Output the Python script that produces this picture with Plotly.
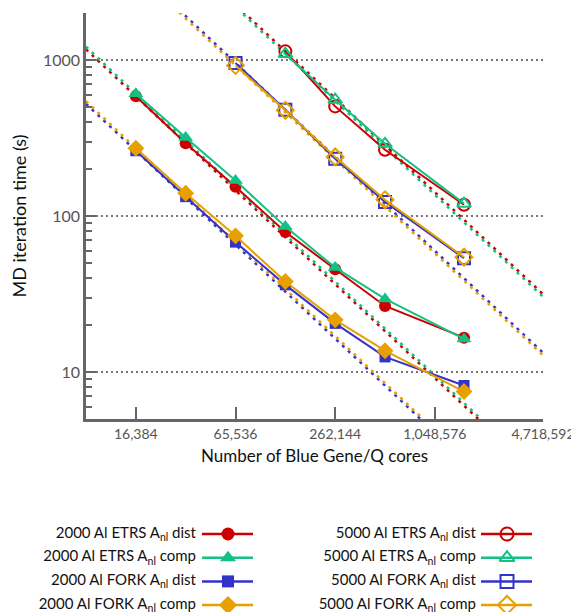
import math
import plotly.graph_objects as go

# ---------------- data ----------------
cores_2000 = [16384, 32768, 65536, 131072, 262144, 524288, 1572864]
etrs_dist_2000 = [585, 293, 154, 79, 45.6, 26.5, 16.6]
etrs_comp_2000 = [608, 318, 169, 85.5, 46.7, 29.4, 16.3]
fork_dist_2000 = [262, 133, 68, 36.2, 20.5, 12.5, 8.2]
fork_comp_2000 = [272, 140, 74.6, 38, 21.6, 13.7, 7.5]

cores_5000_etrs = [131072, 262144, 524288, 1572864]
etrs_dist_5000 = [1136, 504, 266, 118]
etrs_comp_5000 = [1093, 556, 290, 120]
cores_5000_fork = [65536, 131072, 262144, 524288, 1572864]
fork_dist_5000 = [957, 480, 233, 123, 53.6]
fork_comp_5000 = [923, 476, 239, 127, 54.5]

x_tickvals = [16384, 65536, 262144, 1048576, 4718592]
x_ticktext = ["16,384", "65,536", "262,144", "1,048,576", "4,718,592"]
y_tickvals = [10, 100, 1000]
y_ticktext = ["10", "100", "1000"]
x_range_vals = [8192, 4718592]
y_range_vals = [5, 2000]

labels = [
    "2000 Al ETRS A<sub>nl</sub> dist",
    "2000 Al ETRS A<sub>nl</sub> comp",
    "2000 Al FORK A<sub>nl</sub> dist",
    "2000 Al FORK A<sub>nl</sub> comp",
    "5000 Al ETRS A<sub>nl</sub> dist",
    "5000 Al ETRS A<sub>nl</sub> comp",
    "5000 Al FORK A<sub>nl</sub> dist",
    "5000 Al FORK A<sub>nl</sub> comp",
]

# ---------------- styles ----------------
RED = "#cc0000"
GREEN = "#14c184"
BLUE = "#3333cc"
ORANGE = "#e8a000"
FONT = "Lato"

series = [
    (cores_2000, etrs_dist_2000, RED, "circle", 12),
    (cores_2000, etrs_comp_2000, GREEN, "triangle-up", 13),
    (cores_2000, fork_dist_2000, BLUE, "square", 11),
    (cores_2000, fork_comp_2000, ORANGE, "diamond", 13),
    (cores_5000_etrs, etrs_dist_5000, RED, "circle-open", 12),
    (cores_5000_etrs, etrs_comp_5000, GREEN, "triangle-up-open", 12),
    (cores_5000_fork, fork_dist_5000, BLUE, "square-open", 12),
    (cores_5000_fork, fork_comp_5000, ORANGE, "diamond-open", 13),
]

fig = go.Figure()

# ideal scaling (dotted) lines
for xs, ys, col, sym, sz in series:
    x0, y0 = xs[0], ys[0]
    xi = x_range_vals
    yi = [y0 * x0 / v for v in xi]
    fig.add_trace(go.Scatter(x=xi, y=yi, mode="lines",
                             line=dict(color=col, width=2.5, dash="3px,5px"),
                             showlegend=False, hoverinfo="skip"))

# measured series
for xs, ys, col, sym, sz in series:
    fig.add_trace(go.Scatter(x=xs, y=ys, mode="lines+markers",
                             line=dict(color=col, width=2),
                             marker=dict(symbol=sym, size=sz, color=col,
                                         line=dict(color=col, width=2 if "open" in sym else 0)),
                             showlegend=False))

# page offset (browser body margin)
OFF = 8
W, H = 579, 612

# ---------------- manual legend (pixel coordinates on helper axes) ----------------
row_y0, row_dy = 534 - OFF, 23.7
cols = [
    dict(text_x=196 - OFF, line_x=[202 - OFF, 253 - OFF], mark_x=228 - OFF),
    dict(text_x=476 - OFF, line_x=[481 - OFF, 532 - OFF], mark_x=507 - OFF),
]
for i, (xs, ys, col, sym, sz) in enumerate(series):
    c = cols[i // 4]
    yy = row_y0 + (i % 4) * row_dy
    fig.add_trace(go.Scatter(x=c["line_x"], y=[yy, yy], mode="lines",
                             line=dict(color=col, width=2.5),
                             xaxis="x2", yaxis="y2", showlegend=False, hoverinfo="skip"))
    fig.add_trace(go.Scatter(x=[c["mark_x"]], y=[yy], mode="markers",
                             marker=dict(symbol=sym, size=sz + 1, color=col,
                                         line=dict(color=col, width=2 if "open" in sym else 0)),
                             xaxis="x2", yaxis="y2", showlegend=False, hoverinfo="skip",
                             cliponaxis=False))
    fig.add_trace(go.Scatter(x=[c["text_x"]], y=[yy], mode="text", text=[labels[i]],
                             textposition="middle left",
                             textfont=dict(family=FONT, size=15, color="#111111"),
                             xaxis="x2", yaxis="y2", showlegend=False, hoverinfo="skip",
                             cliponaxis=False))

AX = "#666666"
fig.update_layout(
    width=W, height=H,
    margin=dict(l=0, r=0, t=0, b=0),
    paper_bgcolor="white", plot_bgcolor="rgba(0,0,0,0)",
    font=dict(family=FONT, color="#111111"),
    xaxis=dict(
        type="log", domain=[(86 - OFF) / W, (543 - OFF) / W],
        range=[math.log10(v) for v in x_range_vals],
        tickvals=x_tickvals, ticktext=x_ticktext,
        ticks="inside", ticklen=12, tickwidth=2, tickcolor=AX,
        showline=True, linecolor=AX, linewidth=2.5,
        showgrid=False, zeroline=False,
        tickfont=dict(family=FONT, size=14, color="#555555"),
        title=dict(text="Number of Blue Gene/Q cores",
                   font=dict(family=FONT, size=17, color="#111111"), standoff=10),
        automargin=False, anchor="y",
    ),
    yaxis=dict(
        type="log", domain=[(H - (419 - OFF)) / H, (H - (13 - OFF)) / H],
        range=[math.log10(v) for v in y_range_vals],
        tickvals=y_tickvals, ticktext=y_ticktext,
        ticks="inside", ticklen=10, tickwidth=2, tickcolor=AX,
        minor=dict(tickmode="array",
                   tickvals=[m * d for d in (1, 10, 100) for m in range(2, 10)] + [2000],
                   ticks="inside", ticklen=6, tickwidth=2, tickcolor=AX, showgrid=False),
        showline=True, linecolor=AX, linewidth=2.5,
        showgrid=True, gridcolor="#777777", gridwidth=2, griddash="2px,3px",
        zeroline=False,
        tickfont=dict(family=FONT, size=16, color="#555555"),
        title=dict(text="MD iteration time (s)",
                   font=dict(family=FONT, size=18, color="#111111"), standoff=20),
        automargin=False, anchor="x",
    ),
    xaxis2=dict(domain=[0, 1], range=[0, W], visible=False, anchor="y2", fixedrange=True),
    yaxis2=dict(domain=[0, 1], range=[H, 0], visible=False, anchor="x2", fixedrange=True),
)

fig.write_html("out.html")
